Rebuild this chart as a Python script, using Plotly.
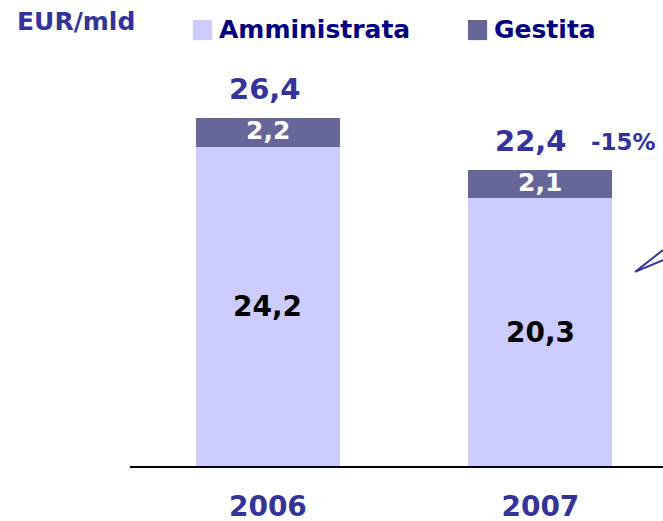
import plotly.graph_objects as go

years = ["2006", "2007"]
amministrata = [24.2, 20.3]
gestita = [2.2, 2.1]
totals = [26.4, 22.4]
change_label = "-15%"
unit_label = "EUR/mld"
series_names = ["Amministrata", "Gestita"]

C_AMM = "#CCCCFF"
C_GES = "#666699"
NAVY = "#333399"
LEG = "#000080"
FONT = "DejaVu Sans"

def fmt(v):
    return f"{v:.1f}".replace(".", ",")

xpos = list(range(len(years)))

fig = go.Figure()
fig.add_trace(go.Bar(x=xpos, y=amministrata, name=series_names[0], marker_color=C_AMM,
                     marker_line_width=0, width=0.528, showlegend=False, hoverinfo="skip"))
fig.add_trace(go.Bar(x=xpos, y=gestita, name=series_names[1], marker_color=C_GES,
                     marker_line_width=0, width=0.528, showlegend=False, hoverinfo="skip"))

ann = []
for i, (a, g, t) in enumerate(zip(amministrata, gestita, totals)):
    ann.append(dict(x=i, y=a / 2, text=fmt(a), showarrow=False, xref="x", yref="y",
                    font=dict(family=FONT, size=28, color="#000000", weight="bold")))
    ann.append(dict(x=i, y=a + g / 2, text=fmt(g), showarrow=False, xref="x", yref="y",
                    yshift=2,
                    font=dict(family=FONT, size=25, color="#FFFFFF", weight="bold")))
    ann.append(dict(x=i, y=t, text=fmt(t), showarrow=False, xref="x", yref="y",
                    yanchor="middle", yshift=29, xshift=(-3 if i == 0 else -9),
                    font=dict(family=FONT, size=29, color=NAVY, weight="bold")))

ann.append(dict(x=1, y=totals[1], text=change_label, showarrow=False, xref="x", yref="y",
                yanchor="middle", yshift=28, xshift=83,
                font=dict(family=FONT, size=23, color=NAVY, weight="bold")))

# unit label and manual legend
ann.append(dict(x=-0.2158, y=1.0936, xref="paper", yref="paper", text=unit_label,
                showarrow=False, xanchor="left", yanchor="middle",
                font=dict(family=FONT, size=25, color=NAVY, weight="bold")))
ann.append(dict(x=0.164, y=1.074, xref="paper", yref="paper", text=series_names[0],
                showarrow=False, xanchor="left", yanchor="middle",
                font=dict(family=FONT, size=25, color=LEG, weight="bold")))
ann.append(dict(x=0.680, y=1.074, xref="paper", yref="paper", text=series_names[1],
                showarrow=False, xanchor="left", yanchor="middle",
                font=dict(family=FONT, size=25, color=LEG, weight="bold")))

shapes = [
    dict(type="rect", xref="paper", yref="paper", x0=0.118, x1=0.154, y0=1.049, y1=1.0985,
         fillcolor=C_AMM, line_width=0),
    dict(type="rect", xref="paper", yref="paper", x0=0.634, x1=0.670, y0=1.049, y1=1.0985,
         fillcolor=C_GES, line_width=0),
    dict(type="path", xref="paper", yref="paper",
         path="M 1.0,0.532 L 0.9475,0.478 L 1.0,0.507",
         line=dict(color=NAVY, width=2)),
]

fig.update_layout(
    barmode="stack",
    width=663, height=521,
    margin=dict(l=130, r=0, t=60, b=55),
    paper_bgcolor="white", plot_bgcolor="white",
    annotations=ann, shapes=shapes,
    showlegend=False,
    xaxis=dict(range=[-0.506, 1.450], tickvals=xpos, ticktext=years, automargin=False,
               showgrid=False, zeroline=False, showline=True, linecolor="#000000",
               linewidth=1.5, ticks="", ticklabelstandoff=15,
               tickfont=dict(family=FONT, size=28, color=NAVY, weight="bold")),
    yaxis=dict(range=[0, 30.76], visible=False, showgrid=False, zeroline=False),
)

fig.write_html(
    "out.html",
    config={"displayModeBar": False, "staticPlot": True},
    post_script="document.body.style.margin='0';document.body.style.overflow='hidden';",
)
